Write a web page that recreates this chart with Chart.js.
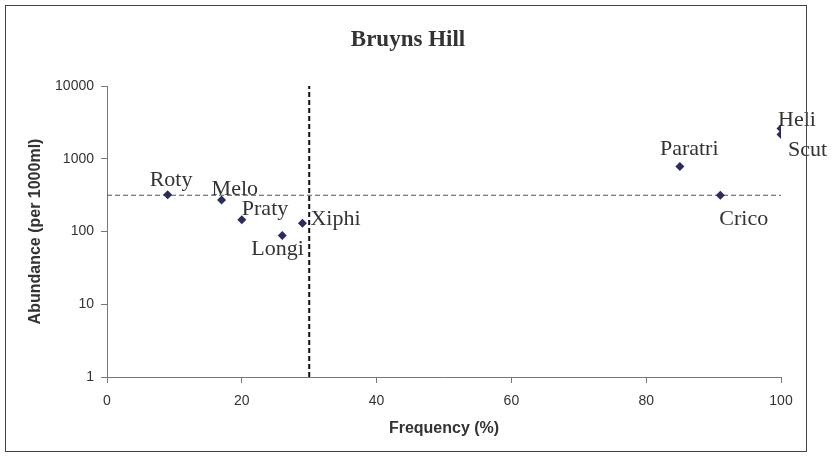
<!DOCTYPE html>
<html>
<head>
<meta charset="utf-8">
<script src="https://cdn.jsdelivr.net/npm/chart.js@4.4.1/dist/chart.umd.min.js"></script>
<style>
    html, body { margin: 0; padding: 0; background: #fff; }
    #wrap { width: 832px; height: 458px; }
</style>
</head>
<body>
<div id="wrap"><canvas id="chart" width="832" height="458"></canvas></div>
<script>
// data
const species = ["Roty", "Melo", "Praty", "Longi", "Xiphi", "Paratri", "Crico", "Heli", "Scut"];
const frequency = [9, 17, 20, 26, 29, 85, 91, 100, 100];
const abundance = [320, 270, 145, 88, 130, 780, 315, 2600, 2150];
const freqCutoff = 30;
const abundCutoff = 315;
const xTicks = [0, 20, 40, 60, 80, 100];
const yTicks = [1, 10, 100, 1000, 10000];

// where each label sits relative to its point (left edge, baseline)
const labelOffsets = {
    Roty: [-18, -9], Melo: [-10, -5], Praty: [0, -5], Longi: [-31, 19], Xiphi: [8, 2],
    Paratri: [-20, -12], Crico: [-1, 30], Heli: [-3, -3], Scut: [7, 21]
};

const sans = "'Liberation Sans', Arial, sans-serif";
const serif = "'Liberation Serif', 'Times New Roman', serif";

let decor = {
    id: "decor",
    beforeDraw: (chart) => {
        let ctx = chart.ctx;
        ctx.save();
        ctx.fillStyle = "#fff";
        ctx.fillRect(0, 0, chart.width, chart.height);
        ctx.restore();
    },
    afterDatasetsDraw: (chart) => {
        let ctx = chart.ctx;
        let meta = chart.getDatasetMeta(0);
        ctx.save();
        ctx.font = "22px " + serif;
        ctx.fillStyle = "#333";
        ctx.textAlign = "left";
        ctx.textBaseline = "alphabetic";
        species.forEach((name, i) => {
            let pt = meta.data[i];
            let off = labelOffsets[name];
            ctx.fillText(name, pt.x + off[0], pt.y + off[1]);
        });
        ctx.restore();
    },
    afterDraw: (chart) => {
        let ctx = chart.ctx;
        ctx.save();
        ctx.font = "bold 23px " + serif;
        ctx.fillStyle = "#333";
        ctx.textAlign = "center";
        ctx.textBaseline = "alphabetic";
        ctx.fillText("Bruyns Hill", 408, 46);
        ctx.strokeStyle = "#444";
        ctx.lineWidth = 1;
        ctx.strokeRect(5.5, 5.5, 801, 446);
        ctx.restore();
    }
};

let chart = new Chart("chart", {
    type: "scatter",
    data: {
        datasets: [{
            data: species.map((s, i) => ({ x: frequency[i], y: abundance[i] })),
            pointStyle: "rectRot",
            pointRadius: 4.5,
            backgroundColor: "#2b2b63",
            borderColor: "#2b2b63",
            borderWidth: 0
        }, {
            data: [{ x: freqCutoff, y: yTicks[0] }, { x: freqCutoff, y: yTicks[yTicks.length - 1] }],
            showLine: true,
            pointRadius: 0,
            borderColor: "#111",
            borderWidth: 2,
            borderDash: [5, 3]
        }, {
            data: [{ x: xTicks[0], y: abundCutoff }, { x: xTicks[xTicks.length - 1], y: abundCutoff }],
            showLine: true,
            pointRadius: 0,
            borderColor: "#555",
            borderWidth: 1.2,
            borderDash: [5, 3]
        }]
    },
    options: {
        responsive: false,
        animation: false,
        devicePixelRatio: 1,
        layout: { padding: { left: 0, top: 86, right: 51, bottom: 0 } },
        plugins: {
            legend: { display: false },
            tooltip: { enabled: false }
        },
        scales: {
            x: {
                type: "linear",
                min: 0,
                max: 100,
                afterBuildTicks: (scale) => { scale.ticks = xTicks.map(v => ({ value: v })); },
                afterFit: (scale) => { scale.height = 81; scale.paddingLeft = 0; scale.paddingRight = 0; },
                ticks: { font: { family: sans, size: 14 }, color: "#333", padding: 10, maxRotation: 0 },
                grid: { drawOnChartArea: false, color: "#777", tickLength: 6 },
                border: { color: "#777" },
                title: {
                    display: true,
                    text: "Frequency (%)",
                    font: { family: sans, size: 16, weight: "bold" },
                    color: "#333",
                    padding: { top: 0, bottom: 20 }
                }
            },
            y: {
                type: "logarithmic",
                min: 1,
                max: 10000,
                afterBuildTicks: (scale) => { scale.ticks = yTicks.map(v => ({ value: v })); },
                afterFit: (scale) => { scale.width = 107; scale.paddingTop = 0; scale.paddingBottom = 0; },
                ticks: { font: { family: sans, size: 14 }, color: "#333", padding: 7, callback: v => String(v) },
                grid: { drawOnChartArea: false, color: "#777", tickLength: 6 },
                border: { color: "#777" },
                title: {
                    display: true,
                    text: "Abundance (per 1000ml)",
                    font: { family: sans, size: 16, weight: "bold" },
                    color: "#333",
                    padding: { top: 26, bottom: 0 }
                }
            }
        }
    },
    plugins: [decor]
});
</script>
</body>
</html>
